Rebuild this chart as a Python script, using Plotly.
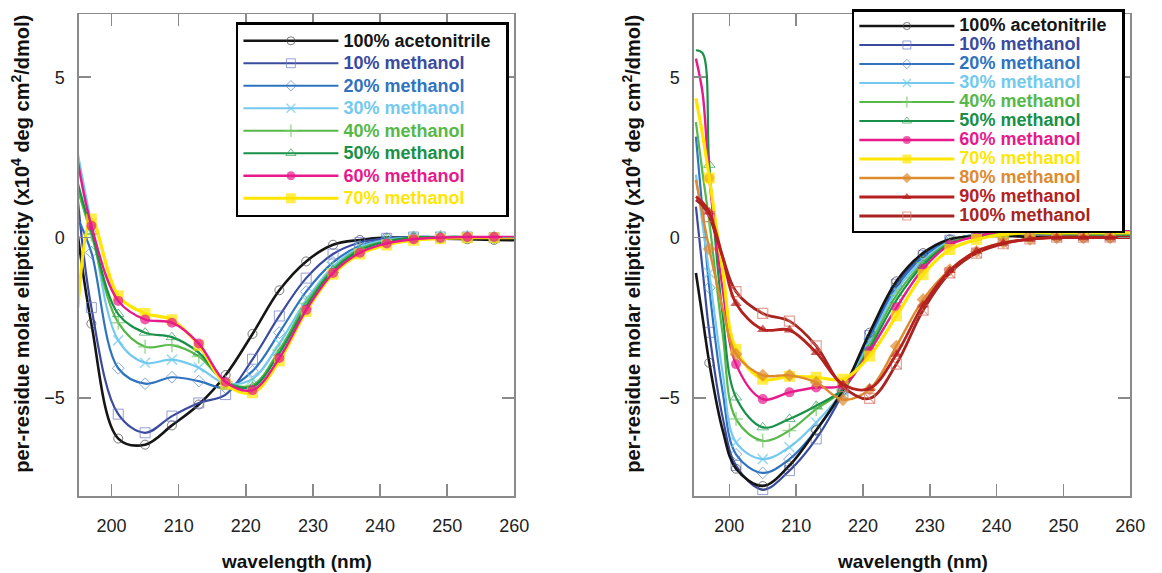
import plotly.graph_objects as go

# ---------------- data ----------------
WL_LEFT = [195, 197, 201, 205, 209, 213, 217, 221, 225, 229, 233, 237, 241, 245, 249, 253, 257, 260]
WL_RIGHT = [195, 196, 197, 199, 201, 205, 209, 213, 217, 221, 225, 229, 233, 237, 241, 245, 249, 253, 257, 260]

LABELS_LEFT = ["100% acetonitrile", "10% methanol", "20% methanol", "30% methanol",
               "40% methanol", "50% methanol", "60% methanol", "70% methanol"]
LABELS_RIGHT = LABELS_LEFT + ["80% methanol", "90% methanol", "100% methanol"]

acn_L = [0.05, -2.68, -6.26, -6.45, -5.85, -5.20, -4.28, -3.00, -1.64, -0.74, -0.22, -0.07, 0.00, 0.00, -0.03, -0.05, -0.07, -0.08]
m10_L = [1.15, -2.18, -5.50, -6.08, -5.56, -5.15, -4.89, -3.79, -2.44, -1.26, -0.51, -0.15, -0.02, 0.02, 0.02, 0.02, 0.00, 0.00]
m20_L = [0.60, -0.46, -4.07, -4.55, -4.35, -4.47, -4.68, -4.16, -2.96, -1.68, -0.77, -0.25, -0.05, 0.02, 0.02, 0.02, 0.00, 0.00]
m30_L = [2.60, 0.45, -3.20, -3.90, -3.80, -4.05, -4.55, -4.40, -3.30, -1.95, -0.90, -0.30, -0.07, 0.00, 0.02, 0.02, 0.00, 0.00]
m40_L = [1.47, 0.10, -2.65, -3.40, -3.35, -3.70, -4.50, -4.60, -3.50, -2.05, -0.97, -0.35, -0.10, 0.00, 0.02, 0.02, 0.00, 0.00]
m50_L = [1.68, 0.20, -2.38, -2.96, -3.10, -3.58, -4.50, -4.65, -3.60, -2.15, -1.02, -0.40, -0.12, 0.00, 0.02, 0.02, 0.00, 0.00]
m60_L = [2.35, 0.37, -1.97, -2.55, -2.65, -3.30, -4.50, -4.75, -3.75, -2.25, -1.10, -0.47, -0.18, -0.05, 0.00, 0.02, 0.02, 0.02]
m70_L = [-2.18, 0.58, -1.81, -2.36, -2.56, -3.35, -4.57, -4.83, -3.84, -2.30, -1.14, -0.51, -0.23, -0.08, -0.03, 0.00, 0.00, 0.00]

acn_R = [-1.10, -2.50, -3.90, -6.00, -7.20, -7.74, -7.10, -6.00, -4.75, -2.96, -1.36, -0.48, -0.05, 0.05, 0.05, 0.03, 0.02, 0.00, 0.00, 0.00]
m10_R = [0.97, -1.00, -2.95, -5.60, -7.10, -7.85, -7.26, -6.27, -4.85, -3.05, -1.45, -0.55, -0.08, 0.08, 0.12, 0.12, 0.10, 0.10, 0.10, 0.10]
m20_R = [3.15, 0.80, -1.56, -4.80, -6.75, -7.33, -6.90, -6.00, -4.80, -3.15, -1.55, -0.60, -0.10, 0.10, 0.15, 0.15, 0.12, 0.10, 0.10, 0.10]
m30_R = [1.96, 0.40, -1.10, -4.20, -6.38, -6.90, -6.53, -5.76, -4.78, -3.25, -1.65, -0.70, -0.12, 0.10, 0.15, 0.15, 0.12, 0.10, 0.10, 0.10]
m40_R = [3.60, 2.00, 0.50, -3.00, -5.65, -6.33, -6.01, -5.34, -4.75, -3.35, -1.80, -0.78, -0.15, 0.08, 0.15, 0.15, 0.12, 0.10, 0.10, 0.10]
m50_R = [5.84, 5.75, 2.27, -2.40, -4.98, -5.91, -5.65, -5.24, -4.72, -3.45, -1.95, -0.85, -0.20, 0.05, 0.12, 0.15, 0.12, 0.10, 0.10, 0.10]
m60_R = [5.58, 4.50, 1.85, -1.60, -3.94, -5.03, -4.82, -4.67, -4.60, -3.53, -2.18, -0.97, -0.22, 0.04, 0.20, 0.22, 0.22, 0.20, 0.20, 0.20]
m70_R = [4.34, 3.20, 1.86, -1.00, -3.48, -4.41, -4.32, -4.35, -4.41, -3.69, -2.44, -1.15, -0.37, -0.06, 0.10, 0.15, 0.15, 0.15, 0.15, 0.15]
m80_R = [1.80, 0.70, -0.35, -2.20, -3.63, -4.29, -4.29, -4.51, -5.05, -4.72, -3.38, -1.93, -1.00, -0.43, -0.15, -0.05, 0.00, 0.00, 0.00, 0.00]
m90_R = [1.28, 1.10, 0.80, -0.60, -2.05, -2.86, -2.88, -3.58, -4.57, -4.70, -3.63, -2.10, -1.02, -0.42, -0.17, -0.05, 0.00, 0.00, 0.00, 0.00]
m100_R = [1.18, 1.00, 0.66, -0.60, -1.68, -2.36, -2.60, -3.37, -4.64, -5.01, -3.94, -2.26, -1.10, -0.48, -0.19, -0.04, 0.02, 0.02, 0.02, 0.02]

X_TICKS = [200, 210, 220, 230, 240, 250, 260]
Y_TICKS = [-5, 0, 5]

# ---------------- styles ----------------
FONT = "Liberation Sans, Arial, Helvetica, sans-serif"
STYLE = {
    "100% acetonitrile": dict(color="#151515", symbol="circle-open", mcolor="#444444", lw=2.6, ms=9, mlw=1),
    "10% methanol": dict(color="#3A4A9F", symbol="square-open", mcolor="#6B78C2", lw=2.2, ms=10, mlw=1),
    "20% methanol": dict(color="#2F73BF", symbol="diamond-open", mcolor="#4C86C8", lw=2.2, ms=9, mlw=1),
    "30% methanol": dict(color="#73C9EE", symbol="x-thin-open", mcolor="#73C9EE", lw=2.2, ms=10, mlw=1.5),
    "40% methanol": dict(color="#55B848", symbol="cross-thin-open", mcolor="#7ACB6E", lw=2.2, ms=10, mlw=1.5),
    "50% methanol": dict(color="#189048", symbol="triangle-up-open", mcolor="#30A055", lw=2.2, ms=10, mlw=1),
    "60% methanol": dict(color="#E8198B", symbol="circle", mcolor="#E8198B", lw=2.4, ms=10, mlw=0),
    "70% methanol": dict(color="#FFE600", symbol="square", mcolor="#FFE600", lw=3.2, ms=11, mlw=0),
    "80% methanol": dict(color="#DE8A2E", symbol="diamond", mcolor="#DE8A2E", lw=2.4, ms=10, mlw=0),
    "90% methanol": dict(color="#B5211E", symbol="triangle-up", mcolor="#B5211E", lw=2.8, ms=10, mlw=0),
    "100% methanol": dict(color="#A82420", symbol="square-open", mcolor="#D9776A", lw=2.8, ms=10, mlw=1.2),
}

# the page margin is removed (see write_html below), so figure pixels == window pixels
W, H = 1162, 573


def px_x(x):
    return x / W


def px_y(y):
    return 1 - y / H


def marker_sizes(wls, size):
    return [size if (197 <= w <= 257 and (w - 197) % 4 == 0) else 0 for w in wls]


fig = go.Figure()
LEG_TXT = 18


def add_panel(wls, labels, series, xaxis, yaxis, legend, order):
    for name in order:
        vals = series[name]
        st = STYLE[name]
        rank = labels.index(name)
        label = (f'<span style="font-size:{LEG_TXT}px;color:{st["color"]}">{name}'
                 f'&nbsp;&nbsp;</span>')
        fig.add_trace(go.Scatter(
            x=wls, y=vals, mode="lines+markers", name=label,
            line=dict(color=st["color"], width=st["lw"], shape="spline", smoothing=1.0),
            marker=dict(symbol=st["symbol"], size=marker_sizes(wls, st["ms"]), color=st["mcolor"],
                        line=dict(width=st["mlw"], color=st["mcolor"])),
            xaxis=xaxis, yaxis=yaxis, legend=legend, legendrank=rank + 1,
            legendgroup=legend + name, hoverinfo="skip"))
        if name == "100% methanol":
            fig.add_trace(go.Scatter(
                x=wls, y=vals, mode="markers", showlegend=False,
                marker=dict(symbol="line-nw-open", size=marker_sizes(wls, st["ms"]),
                            color=st["mcolor"], line=dict(width=1.2, color=st["mcolor"])),
                xaxis=xaxis, yaxis=yaxis, legend=legend, legendgroup=legend + name, hoverinfo="skip"))


left_series = dict(zip(LABELS_LEFT, [acn_L, m10_L, m20_L, m30_L, m40_L, m50_L, m60_L, m70_L]))
right_series = dict(zip(LABELS_RIGHT, [acn_R, m10_R, m20_R, m30_R, m40_R, m50_R, m60_R, m70_R,
                                       m80_R, m90_R, m100_R]))

left_order = ["100% acetonitrile", "10% methanol", "20% methanol", "30% methanol", "40% methanol",
              "50% methanol", "70% methanol", "60% methanol"]
right_order = ["10% methanol", "20% methanol", "30% methanol", "40% methanol", "100% acetonitrile",
               "50% methanol", "60% methanol", "70% methanol", "80% methanol", "100% methanol", "90% methanol"]

add_panel(WL_LEFT, LABELS_LEFT, left_series, "x", "y", "legend", left_order)
add_panel(WL_RIGHT, LABELS_RIGHT, right_series, "x2", "y2", "legend2", right_order)

axis_common = dict(showline=True, linecolor="#8a8a8a", linewidth=1.5, mirror="ticks", ticks="inside",
                   ticklen=12, tickwidth=1.5, tickcolor="#8a8a8a", showgrid=False, zeroline=False,
                   tickfont=dict(family=FONT, size=18, color="#222222"))

YR = [-8.05, 6.97]
PLOT_TOP, PLOT_BOTTOM = 14, 496
fig.update_layout(
    width=W, height=H, margin=dict(l=0, r=0, t=0, b=0),
    paper_bgcolor="white", plot_bgcolor="white",
    xaxis=dict(domain=[px_x(80), px_x(521)], range=[195.15, 260.0], tickvals=X_TICKS, anchor="y",
               ticklabelstandoff=13, **axis_common),
    yaxis=dict(domain=[px_y(PLOT_BOTTOM), px_y(PLOT_TOP)], range=YR, tickvals=Y_TICKS, anchor="x",
               ticklabelstandoff=9, **axis_common),
    xaxis2=dict(domain=[px_x(703), px_x(1145)], range=[194.7, 260.0], tickvals=X_TICKS, anchor="y2",
                ticklabelstandoff=13, **axis_common),
    yaxis2=dict(domain=[px_y(PLOT_BOTTOM), px_y(PLOT_TOP)], range=YR, tickvals=Y_TICKS, anchor="x2",
                ticklabelstandoff=9, **axis_common),
    legend=dict(x=px_x(239), y=px_y(22), xanchor="left", yanchor="top", bgcolor="white",
                bordercolor="black", borderwidth=2.5, itemwidth=95, tracegroupgap=0,
                font=dict(family=FONT, size=15, weight="bold")),
    legend2=dict(x=px_x(863), y=px_y(9), xanchor="left", yanchor="top", bgcolor="white",
                 bordercolor="black", borderwidth=2.5, itemwidth=95, tracegroupgap=0,
                 font=dict(family=FONT, size=12, weight="bold")),
    showlegend=True,
)

ytitle = "per-residue molar ellipticity (x10<sup>4</sup> deg cm<sup>2</sup>/dmol)"
for xp in (21, 640):
    fig.add_annotation(text=f"<b>{ytitle}</b>", x=px_x(xp), y=px_y(244), xref="paper", yref="paper",
                       xanchor="center", yanchor="middle",
                       textangle=-90, showarrow=False, font=dict(family=FONT, size=20, color="#111111"))
for xp in (300, 924):
    fig.add_annotation(text="<b>wavelength (nm)</b>", x=px_x(xp), y=px_y(561), xref="paper", yref="paper",
                       xanchor="center", yanchor="middle",
                       showarrow=False, font=dict(family=FONT, size=19, color="#111111"))

fig.write_html(
    "out.html",
    config={"displayModeBar": False, "staticPlot": True},
    post_script="document.body.style.margin='0';document.body.style.overflow='hidden';"
                "document.documentElement.style.overflow='hidden';",
)
